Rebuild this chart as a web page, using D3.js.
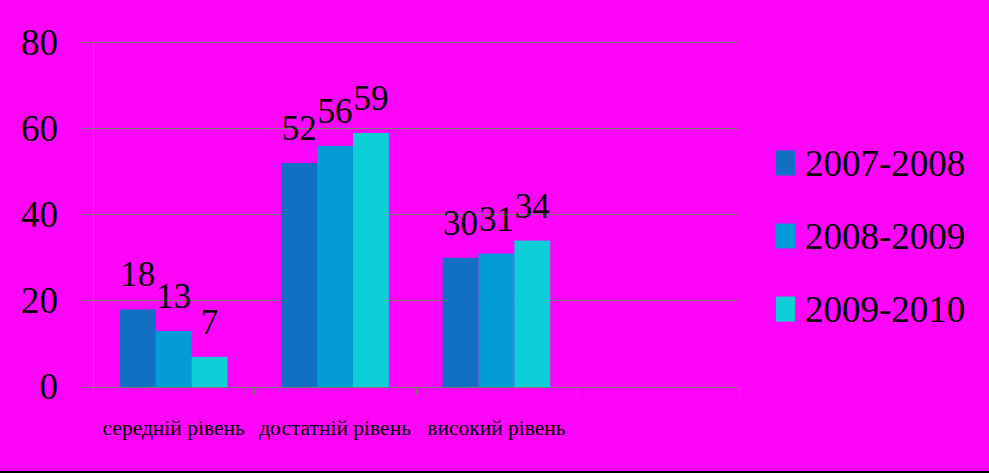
<!DOCTYPE html>
<html>
<head>
<meta charset="utf-8">
<script src="https://cdn.jsdelivr.net/npm/d3@7"></script>
<style>
  html, body { margin: 0; padding: 0; background: #fe04f8; }
  svg { display: block; }
</style>
</head>
<body>
<svg id="chart" width="989" height="473"></svg>
<script>
const categories = ["середній рівень", "достатній рівень", "високий рівень", ""];
const seriesNames = ["2007-2008", "2008-2009", "2009-2010"];
const series2007 = [18, 52, 30];
const series2008 = [13, 56, 31];
const series2009 = [7, 59, 34];
const yTicks = [0, 20, 40, 60, 80];
const colors = ["#1170c4", "#039cd8", "#0dcfd8"];

const seriesValues = [series2007, series2008, series2009];
const W = 989, H = 473;
const svg = d3.select("#chart");
svg.append("rect").attr("width", W).attr("height", H).attr("fill", "#fe04f8");
svg.append("rect").attr("x", 0).attr("y", 471).attr("width", W).attr("height", 2).attr("fill", "#000");

const plot = { left: 93, right: 738.5, top: 42.5, bottom: 387 };
const serif = "'Liberation Serif', 'DejaVu Serif', serif";
const gridColor = "#7a7a7a";

const x = d3.scaleBand().domain(d3.range(categories.length)).range([plot.left, plot.right]).paddingInner(0).paddingOuter(0);
const bandW = x.bandwidth();
const barW = bandW / (seriesNames.length + 1.5);
const xs = d3.scaleBand().domain(d3.range(seriesNames.length))
  .range([0.75 * barW, 0.75 * barW + seriesNames.length * barW]);
const y = d3.scaleLinear().domain([0, 80]).range([plot.bottom, plot.top]);

// gridlines
svg.append("g").selectAll("line").data(yTicks.filter(t => t > 0)).join("line")
  .attr("x1", plot.left - 11).attr("x2", plot.right)
  .attr("y1", d => Math.floor(y(d)) + 0.5).attr("y2", d => Math.floor(y(d)) + 0.5)
  .attr("stroke", gridColor).attr("stroke-width", 1);

// y axis line
svg.append("line").attr("x1", plot.left + 0.5).attr("x2", plot.left + 0.5)
  .attr("y1", Math.floor(y(80)) + 0.5).attr("y2", plot.bottom)
  .attr("stroke", gridColor);

// y labels
svg.append("g").selectAll("text").data(yTicks).join("text")
  .attr("x", 58).attr("y", d => y(d) + 12)
  .attr("text-anchor", "end")
  .attr("font-family", serif).attr("font-size", 37).attr("fill", "#000")
  .text(d => d);

// bars
const bars = svg.append("g");
seriesValues.forEach((vals, si) => {
  bars.selectAll(null).data(vals).join("rect")
    .attr("x", (d, i) => x(i) + xs(si))
    .attr("width", xs.bandwidth())
    .attr("y", d => y(d))
    .attr("height", d => y(0) - y(d))
    .attr("fill", colors[si]);
});

// x axis line
svg.append("line").attr("x1", plot.left - 11).attr("x2", plot.right)
  .attr("y1", plot.bottom + 0.5).attr("y2", plot.bottom + 0.5).attr("stroke", gridColor);
// category ticks
const tickXs = d3.range(categories.length + 1).map(i => i < categories.length ? x(i) : plot.right);
svg.append("g").selectAll("line").data(tickXs).join("line")
  .attr("x1", d => Math.round(d) + 0.5).attr("x2", d => Math.round(d) + 0.5)
  .attr("y1", plot.bottom).attr("y2", plot.bottom + 8).attr("stroke", gridColor);

// category labels
svg.append("g").selectAll("text").data(categories).join("text")
  .attr("x", (d, i) => x(i) + bandW / 2).attr("y", 435)
  .attr("text-anchor", "middle")
  .attr("font-family", serif).attr("font-size", 21.5).attr("fill", "#000")
  .text(d => d);

// data labels
const labels = svg.append("g");
seriesValues.forEach((vals, si) => {
  labels.selectAll(null).data(vals).join("text")
    .attr("x", (d, i) => x(i) + xs(si) + xs.bandwidth() / 2)
    .attr("y", d => y(d) - 23)
    .attr("text-anchor", "middle")
    .attr("font-family", serif).attr("font-size", 35).attr("fill", "#000")
    .text(d => d);
});

// legend
const ly = d3.scalePoint().domain(seriesNames).range([163, 309]);
const leg = svg.append("g");
leg.selectAll("rect").data(seriesNames).join("rect")
  .attr("x", 776).attr("y", d => ly(d) - 12.5).attr("width", 19).attr("height", 25)
  .attr("fill", (d, i) => colors[i]);
leg.selectAll("text").data(seriesNames).join("text")
  .attr("x", 805).attr("y", d => ly(d) + 13)
  .attr("font-family", serif).attr("font-size", 37).attr("fill", "#000")
  .text(d => d);
</script>
</body>
</html>
